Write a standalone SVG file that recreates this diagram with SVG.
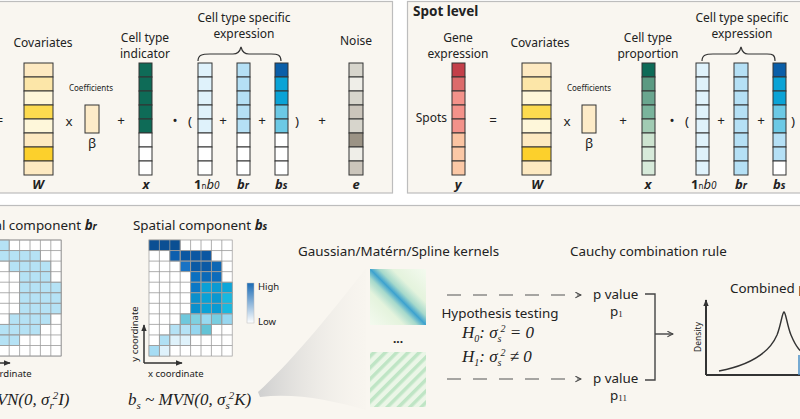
<svg xmlns="http://www.w3.org/2000/svg" width="800" height="419" viewBox="0 0 800 419">
<style>
.t{font-family:"Noto Sans","DejaVu Sans",sans-serif;fill:#222}
.m{font-size:12px}
.h{font-size:13.4px}
.sm{font-size:8px}
.xs{font-size:9.5px}
.c{text-anchor:middle}
.lb{font-size:13px;font-weight:bold;font-style:italic;text-anchor:middle}
.f{font-family:"Liberation Serif","Times New Roman",serif;font-style:italic;font-size:17px;fill:#222}
.cell{stroke:#333;stroke-width:1}
.g rect{stroke:#9a9a9a;stroke-width:0.7}
.ax{stroke:#333;stroke-width:1.5;fill:none}
.dash{stroke:#555;stroke-width:1.2;stroke-dasharray:14 12;fill:none}
.ln{stroke:#444;stroke-width:1.4;fill:none}
.panel{fill:#f9f6f0;stroke:#bdbdbd;stroke-width:1.2}
</style>
<defs>
<linearGradient id="kern" x1="0" y1="1" x2="1" y2="0">
<stop offset="0" stop-color="#f4faef"/>
<stop offset="0.3" stop-color="#e4f3dd"/>
<stop offset="0.42" stop-color="#a6d9cb"/>
<stop offset="0.5" stop-color="#3da2cf"/>
<stop offset="0.58" stop-color="#a6d9cb"/>
<stop offset="0.7" stop-color="#e4f3dd"/>
<stop offset="1" stop-color="#f4faef"/>
</linearGradient>
<pattern id="stripe" width="8" height="8" patternUnits="userSpaceOnUse" patternTransform="rotate(45)">
<rect width="8" height="8" fill="#ebf6e7"/>
<rect width="3.5" height="8" fill="#bfe5c5"/>
</pattern>
<linearGradient id="fan" x1="0" y1="0" x2="1" y2="0">
<stop offset="0" stop-color="#cfcfcf"/>
<stop offset="1" stop-color="#f4f1eb" stop-opacity="0.2"/>
</linearGradient>
<linearGradient id="leg" x1="0" y1="0" x2="0" y2="1">
<stop offset="0" stop-color="#1a6bb5"/>
<stop offset="1" stop-color="#ffffff"/>
</linearGradient>
<marker id="chev" viewBox="0 0 10 10" refX="9" refY="5" markerWidth="7" markerHeight="7" orient="auto" markerUnits="userSpaceOnUse">
<path d="M1,1 L9,5 L1,9" fill="none" stroke="#444" stroke-width="1.5"/>
</marker>
<marker id="tri" viewBox="0 0 10 10" refX="9" refY="5" markerWidth="7" markerHeight="7" orient="auto" markerUnits="userSpaceOnUse">
<path d="M0,1 L10,5 L0,9 Z" fill="#333"/>
</marker>
</defs>
<rect width="800" height="419" fill="#ffffff"/>
<rect class="panel" x="-10" y="1.5" width="402.5" height="191.5"/>
<rect class="panel" x="407.5" y="1.5" width="410" height="191.5"/>
<rect class="panel" x="-10" y="205.5" width="820" height="230"/>

<!-- Cell level panel -->
<g id="cell-level">
<text class="t m" x="3" y="125" text-anchor="end">=</text>
<g id="W1">
<text class="t m c" x="43" y="47">Covariates</text>
<rect class="cell" x="24" y="63" width="29" height="14" fill="#fde9c1"/>
<rect class="cell" x="24" y="77" width="29" height="14" fill="#fce6a8"/>
<rect class="cell" x="24" y="91" width="29" height="14" fill="#fef6d9"/>
<rect class="cell" x="24" y="105" width="29" height="14" fill="#fddb4f"/>
<rect class="cell" x="24" y="119" width="29" height="14" fill="#fef7da"/>
<rect class="cell" x="24" y="133" width="29" height="14" fill="#fde9c1"/>
<rect class="cell" x="24" y="147" width="29" height="14" fill="#fcd02c"/>
<rect class="cell" x="24" y="161" width="29" height="14" fill="#fde9c1"/>
<text class="t lb" x="38" y="189">W</text>
</g>
<text class="t h c" x="69" y="126">x</text>
<g id="beta1">
<text class="t sm c" x="91" y="91">Coefficients</text>
<rect class="cell" x="85" y="105" width="14" height="28" fill="#fdebc8"/>
<text class="t h c" x="92" y="148">β</text>
</g>
<text class="t h c" x="121" y="125">+</text>
<g id="x1">
<text class="t m c" x="145" y="41.5">Cell type</text>
<text class="t m c" x="145" y="58">indicator</text>
<rect class="cell" x="139" y="63" width="13" height="14" fill="#0e6b57"/>
<rect class="cell" x="139" y="77" width="13" height="14" fill="#0e6b57"/>
<rect class="cell" x="139" y="91" width="13" height="14" fill="#0e6b57"/>
<rect class="cell" x="139" y="105" width="13" height="14" fill="#0e6b57"/>
<rect class="cell" x="139" y="119" width="13" height="14" fill="#0e6b57"/>
<rect class="cell" x="139" y="133" width="13" height="14" fill="#fff"/>
<rect class="cell" x="139" y="147" width="13" height="14" fill="#fff"/>
<rect class="cell" x="139" y="161" width="13" height="14" fill="#fff"/>
<text class="t lb" x="146" y="189">x</text>
</g>
<text class="t h c" x="175" y="125">•</text>
<text class="t h c" x="190" y="126">(</text>
<g id="cts1">
<text class="t m c" x="244" y="21.5">Cell type specific</text>
<text class="t m c" x="244" y="38">expression</text>
<path d="M198,61 C198,55 202,54 210,54 L233,54 C238,54 240,51 241,47 C242,51 244,54 249,54 L271,54 C278,54 281,55 281,61" fill="none" stroke="#333" stroke-width="1.2"/>
</g>
<g id="b0-1">
<rect class="cell" x="198" y="63" width="14" height="14" fill="#dff2fb"/>
<rect class="cell" x="198" y="77" width="14" height="14" fill="#dff2fb"/>
<rect class="cell" x="198" y="91" width="14" height="14" fill="#dff2fb"/>
<rect class="cell" x="198" y="105" width="14" height="14" fill="#dff2fb"/>
<rect class="cell" x="198" y="119" width="14" height="14" fill="#dff2fb"/>
<rect class="cell" x="198" y="133" width="14" height="14" fill="#fff"/>
<rect class="cell" x="198" y="147" width="14" height="14" fill="#fff"/>
<rect class="cell" x="198" y="161" width="14" height="14" fill="#fff"/>
<text class="t" x="194" y="189" font-size="13"><tspan font-weight="bold">1</tspan><tspan font-size="8">n</tspan><tspan font-style="italic">b</tspan><tspan font-style="italic" font-size="10">0</tspan></text>
</g>
<text class="t h c" x="223" y="125">+</text>
<g id="br1">
<rect class="cell" x="237" y="63" width="13" height="14" fill="#b5e0f5"/>
<rect class="cell" x="237" y="77" width="13" height="14" fill="#b5e0f5"/>
<rect class="cell" x="237" y="91" width="13" height="14" fill="#b5e0f5"/>
<rect class="cell" x="237" y="105" width="13" height="14" fill="#b5e0f5"/>
<rect class="cell" x="237" y="119" width="13" height="14" fill="#b5e0f5"/>
<rect class="cell" x="237" y="133" width="13" height="14" fill="#fff"/>
<rect class="cell" x="237" y="147" width="13" height="14" fill="#fff"/>
<rect class="cell" x="237" y="161" width="13" height="14" fill="#fff"/>
<text class="t" x="237" y="189" font-size="13" font-weight="bold" font-style="italic">b<tspan font-size="10">r</tspan></text>
</g>
<text class="t h c" x="262" y="125">+</text>
<g id="bs1">
<rect class="cell" x="275" y="63" width="13" height="14" fill="#0a5ea8"/>
<rect class="cell" x="275" y="77" width="13" height="14" fill="#0aa3d6"/>
<rect class="cell" x="275" y="91" width="13" height="14" fill="#0aa3d6"/>
<rect class="cell" x="275" y="105" width="13" height="14" fill="#6cc9e5"/>
<rect class="cell" x="275" y="119" width="13" height="14" fill="#6cc9e5"/>
<rect class="cell" x="275" y="133" width="13" height="14" fill="#fff"/>
<rect class="cell" x="275" y="147" width="13" height="14" fill="#fff"/>
<rect class="cell" x="275" y="161" width="13" height="14" fill="#fff"/>
<text class="t" x="275" y="189" font-size="13" font-weight="bold" font-style="italic">b<tspan font-size="10">s</tspan></text>
</g>
<text class="t h c" x="297" y="126">)</text>
<text class="t h c" x="322" y="125">+</text>
<g id="e1">
<text class="t m c" x="356" y="45">Noise</text>
<rect class="cell" x="349" y="63" width="14" height="14" fill="#d7d5cc"/>
<rect class="cell" x="349" y="77" width="14" height="14" fill="#efeee8"/>
<rect class="cell" x="349" y="91" width="14" height="14" fill="#d7d5cc"/>
<rect class="cell" x="349" y="105" width="14" height="14" fill="#cbc5bb"/>
<rect class="cell" x="349" y="119" width="14" height="14" fill="#d7d5cc"/>
<rect class="cell" x="349" y="133" width="14" height="14" fill="#9b9385"/>
<rect class="cell" x="349" y="147" width="14" height="14" fill="#efeee8"/>
<rect class="cell" x="349" y="161" width="14" height="14" fill="#cbc5bb"/>
<text class="t lb" x="356" y="189">e</text>
</g>
</g>

<!-- Spot level panel -->
<g id="spot-level">
<text class="t" x="413" y="16" font-size="13.5" font-weight="bold">Spot level</text>
<g id="y2">
<text class="t m c" x="458" y="41.5">Gene</text>
<text class="t m c" x="458" y="58">expression</text>
<text class="t m" x="447" y="122" text-anchor="end">Spots</text>
<rect class="cell" x="452" y="63" width="13" height="14" fill="#c33f49"/>
<rect class="cell" x="452" y="77" width="13" height="14" fill="#dc6b6b"/>
<rect class="cell" x="452" y="91" width="13" height="14" fill="#f3928a"/>
<rect class="cell" x="452" y="105" width="13" height="14" fill="#f3928a"/>
<rect class="cell" x="452" y="119" width="13" height="14" fill="#f3928a"/>
<rect class="cell" x="452" y="133" width="13" height="14" fill="#fbc4a2"/>
<rect class="cell" x="452" y="147" width="13" height="14" fill="#fbc8a6"/>
<rect class="cell" x="452" y="161" width="13" height="14" fill="#fbc8a6"/>
<text class="t lb" x="458" y="189">y</text>
</g>
<text class="t h c" x="493" y="125">=</text>
<g id="W2">
<text class="t m c" x="540" y="47">Covariates</text>
<rect class="cell" x="522" y="63" width="29" height="14" fill="#fde9c1"/>
<rect class="cell" x="522" y="77" width="29" height="14" fill="#fce6a8"/>
<rect class="cell" x="522" y="91" width="29" height="14" fill="#fef6d9"/>
<rect class="cell" x="522" y="105" width="29" height="14" fill="#fddb4f"/>
<rect class="cell" x="522" y="119" width="29" height="14" fill="#fef7da"/>
<rect class="cell" x="522" y="133" width="29" height="14" fill="#fde9c1"/>
<rect class="cell" x="522" y="147" width="29" height="14" fill="#fcd02c"/>
<rect class="cell" x="522" y="161" width="29" height="14" fill="#fde9c1"/>
<text class="t lb" x="537" y="189">W</text>
</g>
<text class="t h c" x="567" y="126">x</text>
<g id="beta2">
<text class="t sm c" x="589" y="91">Coefficients</text>
<rect class="cell" x="582" y="105" width="14" height="28" fill="#fdebc8"/>
<text class="t h c" x="589" y="148">β</text>
</g>
<text class="t h c" x="623" y="125">+</text>
<g id="x2">
<text class="t m c" x="648" y="41.5">Cell type</text>
<text class="t m c" x="648" y="58">proportion</text>
<rect class="cell" x="642" y="63" width="13" height="14" fill="#0e6b57"/>
<rect class="cell" x="642" y="77" width="13" height="14" fill="#5b9a82"/>
<rect class="cell" x="642" y="91" width="13" height="14" fill="#6aa68f"/>
<rect class="cell" x="642" y="105" width="13" height="14" fill="#7ab49c"/>
<rect class="cell" x="642" y="119" width="13" height="14" fill="#a1cbb3"/>
<rect class="cell" x="642" y="133" width="13" height="14" fill="#cde4d0"/>
<rect class="cell" x="642" y="147" width="13" height="14" fill="#d7eada"/>
<rect class="cell" x="642" y="161" width="13" height="14" fill="#d7eada"/>
<text class="t lb" x="648" y="189">x</text>
</g>
<text class="t h c" x="672" y="125">•</text>
<text class="t h c" x="687" y="126">(</text>
<g id="cts2">
<text class="t m c" x="742" y="21.5">Cell type specific</text>
<text class="t m c" x="742" y="38">expression</text>
<path d="M702,61 C702,55 706,54 713,54 L734,54 C738,54 740,51 741,47 C742,51 744,54 748,54 L767,54 C773,54 775,55 775,61" fill="none" stroke="#333" stroke-width="1.2"/>
</g>
<g id="b0-2">
<rect class="cell" x="696" y="63" width="13" height="14" fill="#dff2fb"/>
<rect class="cell" x="696" y="77" width="13" height="14" fill="#dff2fb"/>
<rect class="cell" x="696" y="91" width="13" height="14" fill="#dff2fb"/>
<rect class="cell" x="696" y="105" width="13" height="14" fill="#dff2fb"/>
<rect class="cell" x="696" y="119" width="13" height="14" fill="#dff2fb"/>
<rect class="cell" x="696" y="133" width="13" height="14" fill="#dff2fb"/>
<rect class="cell" x="696" y="147" width="13" height="14" fill="#dff2fb"/>
<rect class="cell" x="696" y="161" width="13" height="14" fill="#dff2fb"/>
<text class="t" x="691" y="189" font-size="13"><tspan font-weight="bold">1</tspan><tspan font-size="8">n</tspan><tspan font-style="italic">b</tspan><tspan font-style="italic" font-size="10">0</tspan></text>
</g>
<text class="t h c" x="721" y="125">+</text>
<g id="br2">
<rect class="cell" x="734" y="63" width="14" height="14" fill="#b5e0f5"/>
<rect class="cell" x="734" y="77" width="14" height="14" fill="#b5e0f5"/>
<rect class="cell" x="734" y="91" width="14" height="14" fill="#b5e0f5"/>
<rect class="cell" x="734" y="105" width="14" height="14" fill="#b5e0f5"/>
<rect class="cell" x="734" y="119" width="14" height="14" fill="#b5e0f5"/>
<rect class="cell" x="734" y="133" width="14" height="14" fill="#b5e0f5"/>
<rect class="cell" x="734" y="147" width="14" height="14" fill="#b5e0f5"/>
<rect class="cell" x="734" y="161" width="14" height="14" fill="#b5e0f5"/>
<text class="t" x="735" y="189" font-size="13" font-weight="bold" font-style="italic">b<tspan font-size="10">r</tspan></text>
</g>
<text class="t h c" x="761" y="125">+</text>
<g id="bs2">
<rect class="cell" x="773" y="63" width="13" height="14" fill="#0a5ea8"/>
<rect class="cell" x="773" y="77" width="13" height="14" fill="#0aa3d6"/>
<rect class="cell" x="773" y="91" width="13" height="14" fill="#0aa3d6"/>
<rect class="cell" x="773" y="105" width="13" height="14" fill="#6cc9e5"/>
<rect class="cell" x="773" y="119" width="13" height="14" fill="#6cc9e5"/>
<rect class="cell" x="773" y="133" width="13" height="14" fill="#b5e0f5"/>
<rect class="cell" x="773" y="147" width="13" height="14" fill="#b5e0f5"/>
<rect class="cell" x="773" y="161" width="13" height="14" fill="#fff"/>
<text class="t" x="773" y="189" font-size="13" font-weight="bold" font-style="italic">b<tspan font-size="10">s</tspan></text>
</g>
<text class="t h c" x="793" y="126">)</text>
</g>

<!-- Bottom panel -->
<g id="fan-shape">
<path d="M258,392 C287,366 326,320 366,268 L366,410 C330,400 296,393 260,397 Z" fill="url(#fan)"/>
</g>
<g id="br-component">
<text class="t h" x="-37" y="230">Spatial component <tspan font-weight="bold" font-style="italic">b<tspan font-size="10">r</tspan></tspan></text>
<g class="g">
<rect x="-22" y="240" width="83.2" height="116.05" fill="#fff"/>
<rect x="-11.6" y="240" width="20.8" height="10.55" fill="#b5e2f5"/>
<rect x="-11.6" y="250.55" width="52" height="10.55" fill="#b5e2f5"/>
<rect x="9.2" y="261.1" width="41.6" height="10.55" fill="#b5e2f5"/>
<rect x="19.6" y="271.65" width="31.2" height="10.55" fill="#b5e2f5"/>
<rect x="19.6" y="282.2" width="41.6" height="10.55" fill="#b5e2f5"/>
<rect x="19.6" y="292.75" width="41.6" height="10.55" fill="#b5e2f5"/>
<rect x="19.6" y="303.3" width="41.6" height="10.55" fill="#b5e2f5"/>
<rect x="9.2" y="313.85" width="41.6" height="10.55" fill="#b5e2f5"/>
<rect x="-11.6" y="324.4" width="52" height="10.55" fill="#b5e2f5"/>
<rect x="-11.6" y="334.95" width="31.2" height="10.55" fill="#b5e2f5"/>
</g>
<g stroke="#9a9a9a" stroke-width="0.8" fill="none">
<path d="M-11.6,240V356M-1.2,240V356M9.2,240V356M19.6,240V356M30,240V356M40.4,240V356M50.8,240V356M61.2,240V356"/>
<path d="M-22,240H61.2M-22,250.55H61.2M-22,261.1H61.2M-22,271.65H61.2M-22,282.2H61.2M-22,292.75H61.2M-22,303.3H61.2M-22,313.85H61.2M-22,324.4H61.2M-22,334.95H61.2M-22,345.5H61.2M-22,356.05H61.2"/>
</g>
<path class="ax" d="M-27,363 H10" marker-end="url(#tri)"/>
<text class="t xs" x="-24" y="377">x coordinate</text>
<text class="f" x="-48" y="405">b<tspan font-size="11" dy="4">r</tspan><tspan dy="-4"> ~ MVN(0, σ</tspan><tspan font-size="11" dy="4">r</tspan><tspan font-size="11" dx="-1" dy="-10">2</tspan><tspan dy="6">I)</tspan></text>
</g>
<g id="bs-component">
<text class="t h" x="133" y="230">Spatial component <tspan font-weight="bold" font-style="italic">b<tspan font-size="10">s</tspan></tspan></text>
<g class="g">
<rect x="149" y="240" width="83.2" height="116.05" fill="#fff"/>
<rect x="149" y="240" width="31.2" height="10.55" fill="#0b4f93"/>
<rect x="169.8" y="250.55" width="10.4" height="10.55" fill="#0d5fae"/>
<rect x="180.2" y="250.55" width="31.2" height="10.55" fill="#0b57a2"/>
<rect x="180.2" y="261.1" width="10.4" height="10.55" fill="#1a73c4"/>
<rect x="190.6" y="261.1" width="20.8" height="10.55" fill="#0b5aa5"/>
<rect x="211.4" y="261.1" width="10.4" height="10.55" fill="#0d67b4"/>
<rect x="190.6" y="271.65" width="10.4" height="10.55" fill="#0b70c0"/>
<rect x="201" y="271.65" width="10.4" height="10.55" fill="#0b6ab8"/>
<rect x="211.4" y="271.65" width="10.4" height="10.55" fill="#0c6cbb"/>
<rect x="190.6" y="282.2" width="10.4" height="10.55" fill="#0b78c6"/>
<rect x="201" y="282.2" width="10.4" height="10.55" fill="#0aa0d6"/>
<rect x="211.4" y="282.2" width="10.4" height="10.55" fill="#0a9ad2"/>
<rect x="221.8" y="282.2" width="10.4" height="10.55" fill="#0ba6d9"/>
<rect x="190.6" y="292.75" width="10.4" height="10.55" fill="#0a8fcc"/>
<rect x="201" y="292.75" width="10.4" height="10.55" fill="#0aa1d6"/>
<rect x="211.4" y="292.75" width="10.4" height="10.55" fill="#0a98d0"/>
<rect x="221.8" y="292.75" width="10.4" height="10.55" fill="#18b8e0"/>
<rect x="190.6" y="303.3" width="10.4" height="10.55" fill="#0a8fcc"/>
<rect x="201" y="303.3" width="10.4" height="10.55" fill="#0aa1d6"/>
<rect x="211.4" y="303.3" width="10.4" height="10.55" fill="#0a9ad2"/>
<rect x="221.8" y="303.3" width="10.4" height="10.55" fill="#18b8e0"/>
<rect x="180.2" y="313.85" width="10.4" height="10.55" fill="#6fc8dc"/>
<rect x="190.6" y="313.85" width="10.4" height="10.55" fill="#7fd0e0"/>
<rect x="201" y="313.85" width="10.4" height="10.55" fill="#98d9f0"/>
<rect x="211.4" y="313.85" width="10.4" height="10.55" fill="#78cde0"/>
<rect x="221.8" y="313.85" width="10.4" height="10.55" fill="#98d7f0"/>
<rect x="169.8" y="324.4" width="10.4" height="10.55" fill="#b5e2f5"/>
<rect x="180.2" y="324.4" width="10.4" height="10.55" fill="#b5e2f5"/>
<rect x="190.6" y="324.4" width="10.4" height="10.55" fill="#95d6ef"/>
<rect x="201" y="324.4" width="10.4" height="10.55" fill="#63c3d6"/>
<rect x="159.4" y="334.95" width="10.4" height="10.55" fill="#b0e0f4"/>
<rect x="169.8" y="334.95" width="20.8" height="10.55" fill="#dff2fb"/>
<rect x="149" y="345.5" width="10.4" height="10.55" fill="#a6dcf3"/>
<rect x="159.4" y="345.5" width="10.4" height="10.55" fill="#dff2fb"/>
</g>
<g stroke="#9a9a9a" stroke-width="0.8" fill="none">
<path d="M159.4,240V356M169.8,240V356M180.2,240V356M190.6,240V356M201,240V356M211.4,240V356M221.8,240V356"/>
<path d="M149,250.55H232.2M149,261.1H232.2M149,271.65H232.2M149,282.2H232.2M149,292.75H232.2M149,303.3H232.2M149,313.85H232.2M149,324.4H232.2M149,334.95H232.2M149,345.5H232.2"/>
</g>
<rect x="247" y="283" width="7" height="40" fill="url(#leg)" stroke="#bbb" stroke-width="0.5"/>
<text class="t xs" x="258" y="290">High</text>
<text class="t xs" x="258" y="325">Low</text>
<path class="ax" d="M144,363 V325" marker-end="url(#tri)"/>
<path class="ax" d="M144,363 H182" marker-end="url(#tri)"/>
<text class="t xs c" transform="translate(138,334) rotate(-90)">y coordinate</text>
<text class="t xs" x="148" y="377">x coordinate</text>
<text class="f" x="128" y="405">b<tspan font-size="11" dy="4">s</tspan><tspan dy="-4"> ~ MVN(0, σ</tspan><tspan font-size="11" dy="4">s</tspan><tspan font-size="11" dx="-1" dy="-10">2</tspan><tspan dy="6">K)</tspan></text>
</g>
<g id="kernels">
<text class="t h" x="298" y="256">Gaussian/Matérn/Spline kernels</text>
<rect x="370" y="269" width="56" height="56" fill="url(#kern)"/>
<text class="t" x="398" y="343" font-size="12" text-anchor="middle" font-weight="bold">...</text>
<rect x="370" y="352" width="56" height="55" fill="url(#stripe)"/>
</g>
<g id="hypothesis">
<text class="t h c" x="500" y="318">Hypothesis testing</text>
<text class="f" x="462" y="338" font-size="16">H<tspan font-size="10" dy="4">0</tspan><tspan dy="-4">: σ</tspan><tspan font-size="10" dy="4">s</tspan><tspan font-size="10" dx="-1" dy="-10">2</tspan><tspan dy="6"> = 0</tspan></text>
<text class="f" x="462" y="362" font-size="16">H<tspan font-size="10" dy="4">1</tspan><tspan dy="-4">: σ</tspan><tspan font-size="10" dy="4">s</tspan><tspan font-size="10" dx="-1" dy="-10">2</tspan><tspan dy="6"> ≠ 0</tspan></text>
</g>
<g id="pvalues">
<text class="t h" x="570" y="256">Cauchy combination rule</text>
<text class="t h" x="593" y="299">p value</text>
<text class="t h" x="610" y="316">p<tspan font-family="Liberation Serif,serif" font-size="9" dy="1">1</tspan></text>
<text class="t h" x="593" y="383">p value</text>
<text class="t h" x="610" y="400">p<tspan font-family="Liberation Serif,serif" font-size="9" dy="1">11</tspan></text>
</g>
<g id="combined">
<text class="t h" x="730" y="293">Combined p</text>
<path d="M706,375 V300" stroke="#333" stroke-width="2" fill="none" marker-end="url(#tri)"/>
<path d="M706,375 H805" stroke="#333" stroke-width="2" fill="none"/>
<text class="t" font-size="8.5" text-anchor="middle" transform="translate(701,337) rotate(-90)">Density</text>
<path d="M719,371 C745,366 768,356 777,335 C781,325 782,313 784,312 C786,313 787,325 791,335 C796,347 800,352 808,356" fill="none" stroke="#333" stroke-width="1.4"/>
<path d="M799,355 V375" stroke="#4a90c8" stroke-width="1.5"/>
</g>
<g id="connectors">
<path class="dash" d="M439,295 H581" stroke-dashoffset="18" marker-end="url(#chev)"/>
<path class="dash" d="M439,379 H581" stroke-dashoffset="18" marker-end="url(#chev)"/>
<path class="ln" d="M645,294 H655 V380 H645"/>
<path class="ln" d="M655,334 H673" marker-end="url(#chev)"/>
</g>
</svg>
